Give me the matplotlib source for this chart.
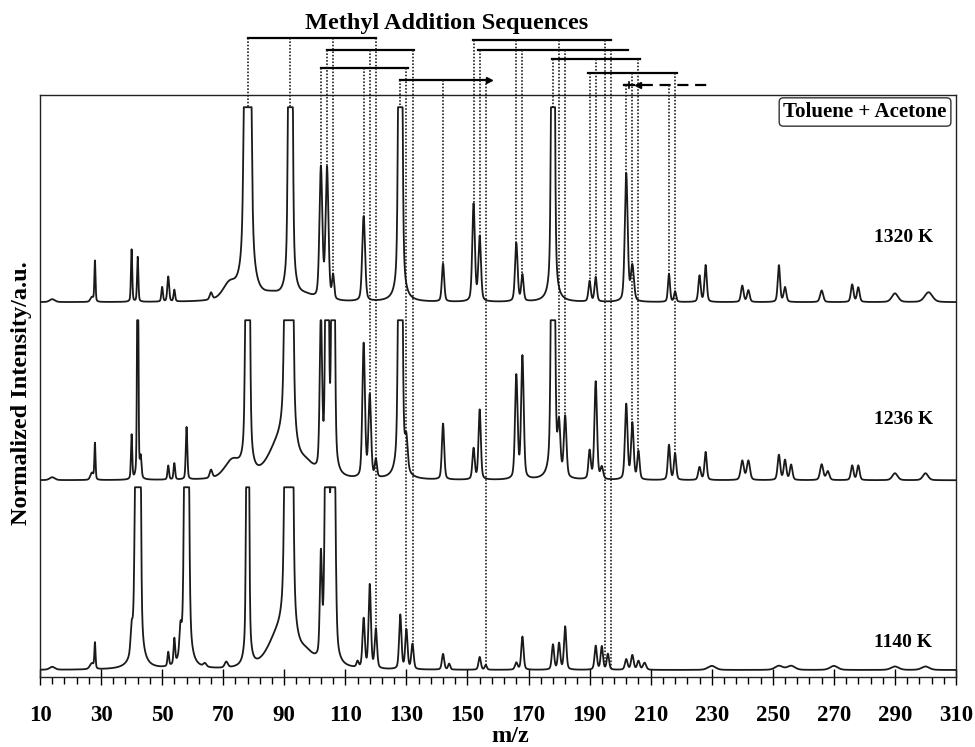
import numpy as np
import matplotlib
matplotlib.use("Agg")
import matplotlib.pyplot as plt

plt.rcParams['font.family'] = ['Liberation Serif', 'DejaVu Serif']
plt.rcParams['font.weight'] = 'bold'

# peak lists: m/z, height (a.u.), half width (m/z)
mz_1320 = [14, 27, 28, 40, 42, 50, 52, 54, 66, 72, 78, 86, 92, 97, 102, 104, 106, 116, 128, 142,
           152, 154, 166, 168, 178, 190, 192, 202, 204, 216, 218, 226, 228, 240, 242, 252, 254,
           266, 276, 278, 290, 301]
h_1320 = [0.5, 0.8, 7.0, 9.0, 7.7, 2.5, 4.3, 2.0, 1.2, 2.5, 250, 0.8, 180, 0.8, 22.5, 22.5, 4.0, 14.6, 150, 6.5,
          16.7, 11.0, 10.0, 4.5, 150, 3.5, 4.2, 22, 6, 4.8, 1.8, 4.5, 6.3, 2.8, 2.0, 6.3, 2.5,
          2.0, 3.0, 2.5, 1.5, 1.7]
w_1320 = [1.0, 0.6, 0.22, 0.25, 0.25, 0.3, 0.35, 0.3, 0.5, 2.5, 0.7, 3, 0.5, 3, 0.55, 0.55, 0.4, 0.55, 0.5, 0.45,
          0.5, 0.5, 0.5, 0.45, 0.45, 0.45, 0.45, 0.55, 0.6, 0.4, 0.4, 0.45, 0.45, 0.5, 0.5, 0.45, 0.5,
          0.6, 0.5, 0.5, 1.2, 1.5]

mz_1236 = [14, 27, 28, 40, 42, 43, 52, 54, 58, 66, 73, 78, 88, 91, 92, 97, 102, 104, 106, 116,
           118, 120, 128, 130, 142, 152, 154, 166, 168, 178, 180, 182, 190, 192, 194, 202, 204, 206,
           216, 218, 226, 228, 240, 242, 252, 254, 256, 266, 268, 276, 278, 290, 300]
h_1236 = [0.5, 1.2, 6.2, 7.6, 60, 3.4, 2.4, 2.8, 9.0, 1.4, 3.0, 150, 5.0, 150, 150, 2.0, 26, 100, 100, 23,
          14, 3, 150, 5, 9.6, 5.3, 12, 17.7, 21, 120, 8, 10.3, 4.8, 16.8, 2, 12.9, 9.6, 4.8,
          6, 4.5, 2.2, 4.8, 3.3, 3.3, 4.3, 3.4, 2.6, 2.7, 1.5, 2.5, 2.5, 1.2, 1.2]
w_1236 = [1, 0.6, 0.22, 0.25, 0.22, 0.3, 0.3, 0.3, 0.3, 0.5, 3, 0.5, 4, 0.6, 0.6, 3, 0.45, 0.45, 0.45, 0.5,
          0.5, 0.4, 0.5, 0.5, 0.45, 0.45, 0.45, 0.5, 0.5, 0.5, 0.5, 0.5, 0.45, 0.5, 0.5, 0.5, 0.5, 0.45,
          0.45, 0.45, 0.5, 0.45, 0.6, 0.6, 0.5, 0.5, 0.5, 0.6, 0.6, 0.5, 0.5, 1, 1]

mz_1140 = [14, 27, 28, 40, 42, 43, 52, 54, 56, 58, 64, 71, 78, 88, 91, 92, 97, 102, 104, 106,
           114, 116, 118, 120, 128, 130, 132, 142, 144, 154, 156, 166, 168, 178, 180, 182, 192, 194,
           196, 202, 204, 206, 208, 230, 252, 256, 270, 290, 300]
h_1140 = [0.5, 1.0, 4.3, 4.0, 150, 10, 2.4, 4.3, 4.5, 150, 0.6, 1.0, 150, 5.0, 150, 150, 2.0, 17, 80, 80,
          1.0, 8.4, 14.3, 6.7, 9.3, 6.7, 4.3, 2.7, 1.0, 2.2, 0.8, 1.2, 5.7, 4.3, 4.5, 7.4, 4.1, 4.0,
          2.7, 1.8, 2.5, 1.5, 1.2, 0.7, 0.7, 0.7, 0.7, 0.6, 0.6]
w_1140 = [1, 0.8, 0.22, 0.4, 0.6, 0.2, 0.3, 0.3, 0.4, 0.55, 0.6, 0.6, 0.35, 4, 0.6, 0.6, 3, 0.4, 0.6, 0.6,
          0.4, 0.45, 0.45, 0.45, 0.45, 0.45, 0.45, 0.45, 0.4, 0.45, 0.4, 0.5, 0.45, 0.45, 0.45, 0.45, 0.45, 0.45,
          0.45, 0.5, 0.5, 0.5, 0.6, 1.5, 1.5, 1.5, 1.5, 1.5, 1.5]

temps = ['1320 K', '1236 K', '1140 K']
offsets = [64.4, 33.8, 1.2]      # baseline of each trace
clip_h = [33.5, 27.5, 31.4]      # peaks run off scale above this

# methyl addition sequences (+14 steps); end_trace: 0 top, 1 middle, 2 bottom
seq_mz = [[78, 92, 106, 120], [104, 118, 132], [102, 116, 130], [128, 142, 156],
          [152, 166, 180, 195], [154, 168, 182, 197], [178, 192, 206], [190, 204, 218], [202, 216]]
seq_end = [[0, 0, 0, 2], [0, 1, 2], [0, 0, 2], [0, 0, 2],
           [0, 0, 1, 2], [0, 0, 1, 2], [0, 0, 1], [0, 1, 1], [0, 0]]
seq_span = [(78, 120), (104, 132.6), (102, 130.6), (128, 157.2),
            (151.7, 197), (153.6, 202.7), (177.6, 206.5), (189.6, 218.5), (201.3, 229.5)]
bar_levels = [109.8, 107.7, 104.7, 102.6, 109.5, 107.7, 106.1, 103.8, 101.7]


def peak(x, c, h, w, eta=0.35):
    d = (x - c) / w
    return h * (eta / (1 + d * d) + (1 - eta) * np.exp(-np.log(2) * d * d))


grid = np.arange(10, 310.001, 0.05)
peaks = [(mz_1320, h_1320, w_1320), (mz_1236, h_1236, w_1236), (mz_1140, h_1140, w_1140)]
traces = []
for (mzs, hs, ws), off, top in zip(peaks, offsets, clip_h):
    y = np.zeros_like(grid)
    for c, h, w in zip(mzs, hs, ws):
        y += peak(grid, c, h, w)
    traces.append(off + np.minimum(y, top))

fig = plt.figure(figsize=(9.75, 7.47), dpi=100)
ax = fig.add_axes([40 / 975, 70 / 747, 916 / 975, 582 / 747])

for y in traces:
    ax.plot(grid, y, color='#1a1a1a', lw=1.3, zorder=3)

ax.set_xlim(10, 310)
ax.set_ylim(0, 100)
ax.set_yticks([])
ax.set_xticks(np.arange(10, 311, 20))
ax.set_xticks(np.arange(10, 311, 4), minor=True)
ax.tick_params(axis='x', which='major', direction='inout', length=12, width=1,
               labelsize=16.5, pad=14)
ax.tick_params(axis='x', which='minor', direction='out', length=5, width=1)
for s in ax.spines.values():
    s.set_linewidth(1.0)
    s.set_color('#222222')

# sequences above the frame
for mzs, ends, (x0, x1), lev in zip(seq_mz, seq_end, seq_span, bar_levels):
    for m, e in zip(mzs, ends):
        yend = np.interp(m, grid, traces[e])
        ax.plot([m, m], [lev, yend], color='#111111', lw=1.15, ls=(0, (1, 1.1)),
                clip_on=False, zorder=4)
    if x0 > 200:
        ax.plot([x0, x1], [lev, lev], color='k', lw=1.6, ls=(0, (5, 3)), clip_on=False)
        ax.plot([x0, 203], [lev, lev], color='k', lw=1.6, clip_on=False)
        ax.plot([203, 203], [lev - 0.5, lev + 0.5], color='k', lw=1.2, clip_on=False)
        ax.plot([206], [lev], marker='<', ms=5, color='k', clip_on=False)
    else:
        ax.plot([x0, x1], [lev, lev], color='k', lw=1.6, clip_on=False)
    if x1 > 157 and x1 < 158:
        ax.plot([x1], [lev], marker='>', ms=5, color='k', clip_on=False)

fig.text(446.7 / 975, 1 - 24 / 747, 'Methyl Addition Sequences', ha='center', va='center',
         fontsize=17.5, fontweight='bold')

ax.text(0.9007, 0.9708, 'Toluene + Acetone', transform=ax.transAxes, ha='center', va='center',
        fontsize=15, fontweight='bold',
        bbox=dict(boxstyle='round,pad=0.2', fc='white', ec='#333333', lw=1.0))

for t, yy in zip(temps, [75.6, 44.2, 6.0]):
    ax.text(292.7, yy, t, ha='center', va='center', fontsize=14, fontweight='bold')

fig.text(22 / 975, 1 - 393 / 747, 'Normalized Intensity/a.u.', rotation=90, ha='center',
         va='center', fontsize=17.5, fontweight='bold')
fig.text(510 / 975, 1 - 737 / 747, 'm/z', ha='center', va='center', fontsize=17.5, fontweight='bold')

fig.savefig('out.png', dpi=100)
